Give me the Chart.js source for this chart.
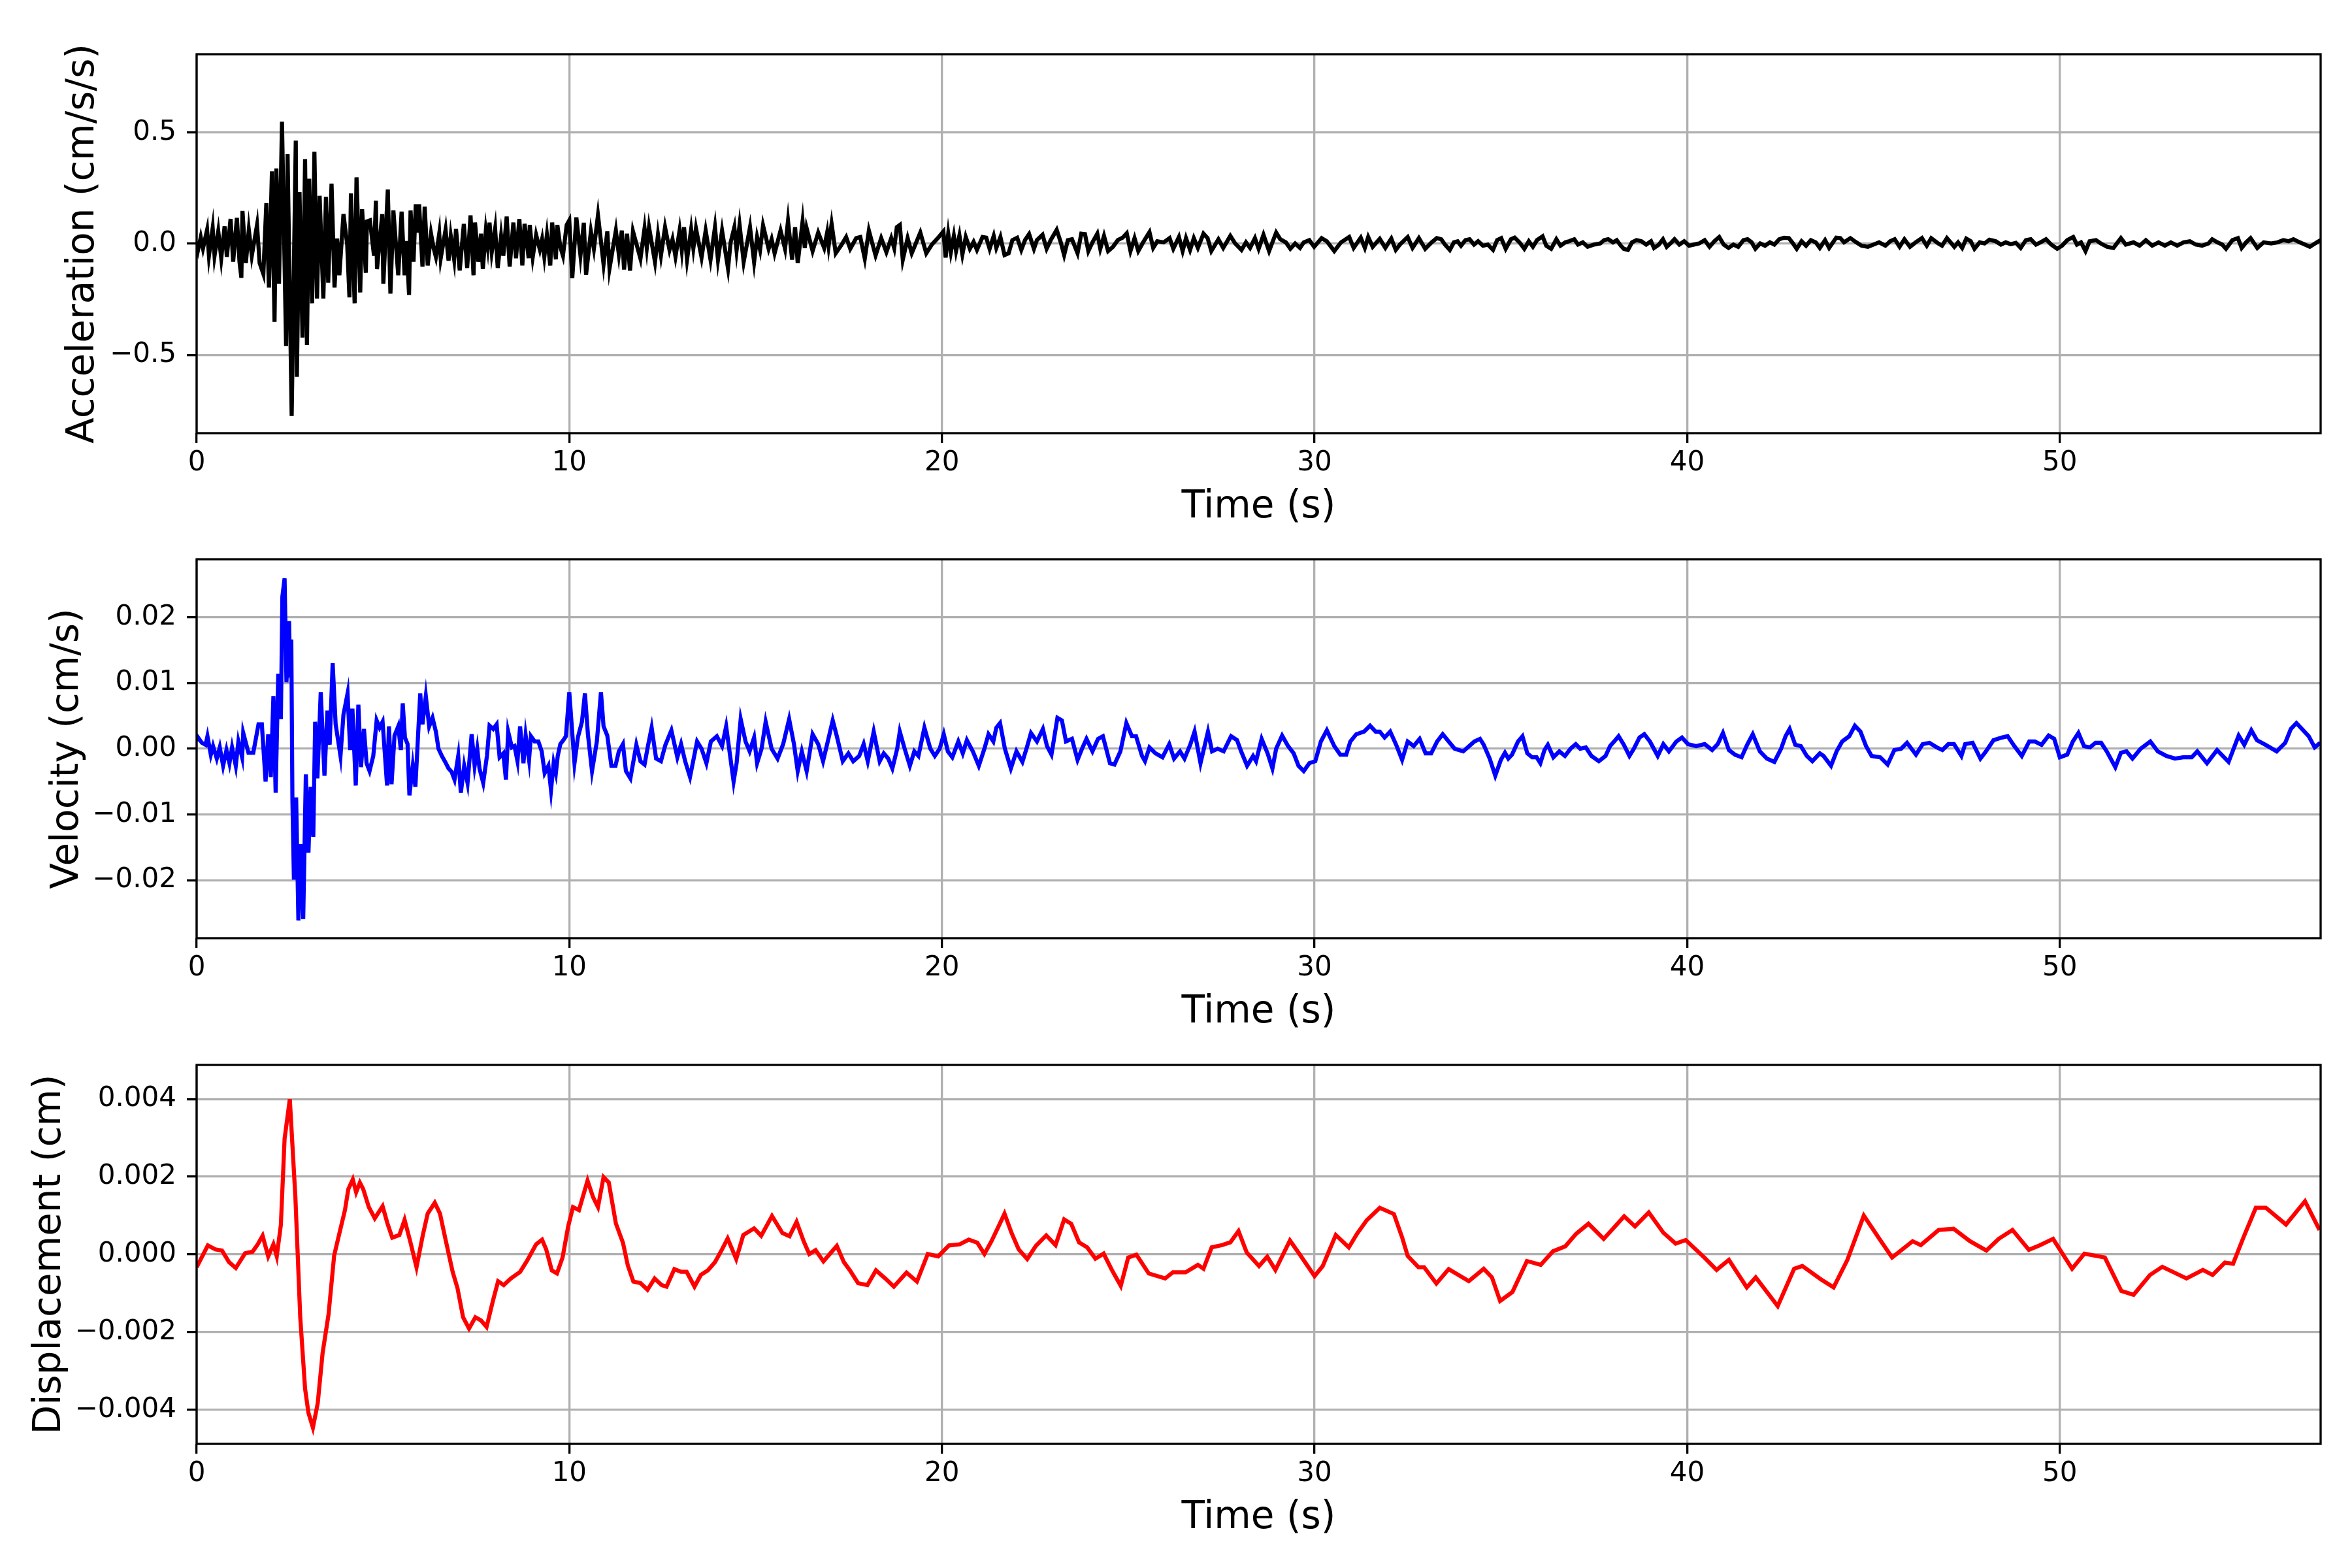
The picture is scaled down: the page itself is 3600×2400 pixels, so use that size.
<!DOCTYPE html>
<html>
<head>
<meta charset="utf-8">
<script src="https://cdn.jsdelivr.net/npm/chart.js@4/dist/chart.umd.min.js"></script>
<style>
html, body { margin: 0; padding: 0; background: #fff; }
body { width: 3600px; height: 2400px; position: relative; overflow: hidden; }
canvas { position: absolute; left: 0; }
</style>
</head>
<body>
<canvas id="acc" width="3600" height="820" style="top:0px"></canvas>
<canvas id="vel" width="3600" height="820" style="top:773px"></canvas>
<canvas id="disp" width="3600" height="820" style="top:1547px"></canvas>
<script>
// tick values and labels
const timeTicks = [0, 10, 20, 30, 40, 50];
const timeTickLabels = ['0', '10', '20', '30', '40', '50'];
const accTicks = [-0.5, 0, 0.5];
const accTickLabels = ['\u22120.5', '0.0', '0.5'];
const velTicks = [-0.02, -0.01, 0, 0.01, 0.02];
const velTickLabels = ['\u22120.02', '\u22120.01', '0.00', '0.01', '0.02'];
const dispTicks = [-0.004, -0.002, 0, 0.002, 0.004];
const dispTickLabels = ['\u22120.004', '\u22120.002', '0.000', '0.002', '0.004'];

// acceleration (cm/s/s)
const accTime = [0.00,0.04,0.11,0.17,0.28,0.33,0.43,0.48,0.58,0.66,0.75,0.81,0.91,0.98,1.08,1.15,1.20,1.23,1.32,1.40,
  1.48,1.62,1.69,1.79,1.87,1.94,2.02,2.09,2.14,2.21,2.29,2.40,2.44,2.55,2.66,2.69,2.76,2.84,2.91,2.96,
  3.02,3.10,3.16,3.23,3.30,3.40,3.47,3.53,3.62,3.70,3.77,3.83,3.94,4.04,4.10,4.14,4.24,4.29,4.39,4.44,
  4.54,4.57,4.65,4.76,4.81,4.84,4.98,5.01,5.13,5.20,5.28,5.41,5.50,5.58,5.63,5.70,5.74,5.82,5.88,5.92,
  5.97,6.06,6.12,6.20,6.29,6.36,6.42,6.51,6.55,6.68,6.76,6.82,6.91,6.96,7.06,7.17,7.26,7.35,7.43,7.47,
  7.56,7.63,7.68,7.76,7.81,7.86,7.92,8.01,8.08,8.17,8.23,8.32,8.40,8.50,8.57,8.66,8.74,8.80,8.91,8.94,
  9.02,9.11,9.21,9.27,9.33,9.40,9.49,9.54,9.64,9.68,9.76,9.83,9.93,10.00,10.08,10.19,10.30,10.39,10.45,10.58,
  10.66,10.77,10.92,11.02,11.08,11.25,11.33,11.41,11.47,11.55,11.63,11.71,11.91,12.02,12.08,12.14,12.30,12.38,12.46,12.57,
  12.69,12.77,12.85,12.96,13.02,13.08,13.16,13.27,13.33,13.40,13.55,13.66,13.79,13.91,13.99,14.10,14.26,14.33,14.43,14.49,
  14.57,14.68,14.85,14.96,15.04,15.12,15.20,15.35,15.43,15.51,15.67,15.79,15.87,15.98,16.06,16.13,16.26,16.32,16.37,16.53,
  16.68,16.84,16.92,16.96,17.04,17.15,17.31,17.43,17.54,17.70,17.81,17.93,18.04,18.22,18.37,18.51,18.64,18.72,18.79,18.87,
  18.95,19.08,19.19,19.42,19.58,19.73,19.89,
  20.04,20.10,20.17,20.24,20.32,20.38,20.47,20.55,20.64,20.75,
  20.85,20.94,21.09,21.19,21.28,21.39,21.46,21.57,21.68,21.79,
  21.89,22.02,22.13,22.23,22.34,22.47,22.55,22.70,22.81,22.92,
  23.08,23.19,23.28,23.38,23.49,23.64,23.74,23.84,23.93,24.04,
  24.17,24.25,24.35,24.46,24.59,24.72,24.85,24.96,25.06,25.17,
  25.27,25.40,25.57,25.67,25.78,25.95,26.11,26.21,26.36,26.46,
  26.55,26.66,26.76,26.87,27.02,27.13,27.23,27.42,27.55,27.74,
  27.87,28.04,28.16,28.27,28.40,28.50,28.63,28.78,28.97,29.08,
  29.23,29.35,29.48,29.61,29.71,29.86,29.99,30.19,30.33,30.53,
  30.71,30.93,31.05,31.24,31.35,31.44,31.56,31.75,31.90,32.06,
  32.18,32.29,32.50,32.63,32.80,32.97,33.14,33.28,
  33.40,33.50,33.63,33.74,33.84,33.93,34.05,34.16,34.28,34.39,
  34.52,34.65,34.79,34.90,35.01,35.13,35.27,35.37,35.50,35.63,
  35.75,35.86,35.97,36.12,36.22,36.35,36.49,36.60,36.73,36.83,
  36.97,37.07,37.20,37.33,37.50,37.67,37.77,37.88,38.01,38.11,
  38.22,38.30,38.41,38.52,38.64,38.77,38.90,39.03,39.11,39.24,
  39.35,39.45,39.58,39.66,39.79,39.92,40.05,40.18,40.32,40.47,
  40.60,40.73,40.86,40.98,41.11,41.24,41.37,41.51,41.62,41.73,
  41.83,41.96,42.09,42.22,42.34,42.47,42.60,42.73,42.84,42.94,
  43.07,43.19,43.32,43.45,43.56,43.70,43.81,44.00,44.11,44.21,
  44.38,44.54,44.68,44.85,45.00,45.15,45.32,45.45,45.57,45.70,
  45.83,45.98,46.13,46.30,46.43,46.55,
  46.74,46.84,46.97,47.07,47.17,47.27,47.38,47.49,47.61,47.71,
  47.85,47.98,48.11,48.28,48.42,48.55,48.68,48.82,48.95,49.09,
  49.22,49.36,49.48,49.63,49.77,49.93,50.06,50.20,50.36,50.46,
  50.57,50.69,50.80,50.97,51.10,51.27,51.44,51.64,51.77,51.98,
  52.14,52.31,52.48,52.65,52.82,52.98,53.15,53.32,53.49,53.65,
  53.82,53.99,54.09,54.23,54.36,54.46,54.63,54.78,54.88,55.00,
  55.12,55.30,55.47,55.67,55.84,56.00,56.14,56.27,56.44,56.58,
  56.71,56.85,57.00];
const accValue = [0.010,-0.026,0.029,-0.021,0.062,-0.054,0.070,-0.054,0.056,-0.065,0.078,-0.059,0.111,-0.081,0.116,-0.081,-0.153,0.147,-0.087,0.062,
  -0.054,0.084,-0.087,-0.136,0.182,-0.197,0.325,-0.351,0.338,-0.180,0.548,-0.460,0.402,-0.774,0.463,-0.598,0.232,-0.422,0.380,-0.455,
  0.292,-0.268,0.413,-0.246,0.215,-0.246,0.210,-0.175,0.270,-0.197,0.023,-0.142,0.133,-0.004,-0.241,0.226,-0.268,0.298,-0.219,0.155,
  -0.131,0.100,0.105,-0.054,0.193,-0.114,0.133,-0.180,0.243,-0.224,0.149,-0.142,0.144,-0.142,0.012,-0.230,0.149,-0.081,0.177,0.050,
  0.177,-0.103,0.166,-0.098,0.045,-0.020,-0.059,0.045,-0.065,0.062,-0.076,0.034,-0.070,0.067,-0.120,0.089,-0.109,0.127,-0.142,0.095,
  -0.081,0.045,-0.114,0.056,-0.010,0.095,-0.037,0.067,-0.109,0.034,-0.054,0.122,-0.103,0.095,-0.065,0.111,-0.098,0.089,-0.065,0.084,
  -0.059,0.040,-0.026,0.020,-0.059,0.040,-0.098,0.095,-0.070,0.084,-0.015,-0.054,0.084,0.105,-0.155,0.118,-0.053,0.094,-0.140,0.055,
  -0.023,0.128,-0.092,0.055,-0.111,0.059,-0.048,0.059,-0.116,0.045,-0.121,0.055,-0.067,0.069,-0.020,0.074,-0.082,0.040,-0.053,0.074,
  -0.028,0.020,-0.058,0.059,-0.030,0.074,-0.072,0.064,-0.020,0.069,-0.062,0.059,-0.072,0.074,-0.072,0.059,-0.111,0.006,0.074,-0.030,
  0.084,-0.082,0.074,-0.082,0.030,-0.028,0.082,-0.023,0.020,-0.043,0.059,-0.023,0.103,-0.072,0.074,-0.087,0.098,-0.020,0.069,-0.033,
  0.050,-0.019,0.050,-0.010,0.089,-0.043,-0.004,0.030,-0.023,0.025,0.030,-0.067,0.059,-0.053,0.025,-0.038,0.025,-0.020,0.074,0.084,
  -0.072,0.025,-0.043,0.050,-0.043,-0.004,0.025,
  0.055,-0.062,0.045,-0.038,0.035,-0.033,0.037,-0.048,0.030,-0.023,
  0.008,-0.028,0.030,0.027,-0.023,0.035,-0.019,0.030,-0.051,-0.043,
  0.016,0.027,-0.028,0.016,0.043,-0.023,0.016,0.040,-0.023,0.016,
  0.062,0.006,-0.051,0.016,0.020,-0.043,0.045,0.043,-0.033,0.006,
  0.045,-0.023,0.035,-0.033,-0.014,0.016,0.027,0.047,-0.033,0.025,
  -0.033,0.006,0.052,-0.019,0.011,0.006,0.025,-0.023,0.030,-0.033,
  0.025,-0.028,0.025,-0.019,0.045,0.025,-0.033,0.020,-0.019,0.035,
  0.001,-0.028,0.006,-0.019,0.025,-0.023,0.040,-0.033,0.050,0.020,
  0.006,-0.023,0.001,-0.019,0.006,0.016,-0.014,0.025,0.011,-0.033,
  0.006,0.030,-0.019,0.027,-0.019,0.030,-0.014,0.022,-0.019,0.023,
  -0.028,-0.004,0.030,-0.019,0.025,-0.023,0.006,0.025,
  0.020,-0.004,-0.028,0.006,0.011,-0.009,0.016,0.020,-0.004,0.011,
  -0.009,-0.004,-0.028,0.016,0.025,-0.023,0.020,0.027,0.006,-0.023,
  0.011,-0.014,0.016,0.033,-0.009,-0.023,0.020,-0.009,0.006,0.011,
  0.020,-0.004,0.006,-0.014,-0.004,0.001,0.016,0.020,0.006,0.016,
  -0.009,-0.023,-0.028,0.006,0.016,0.011,-0.004,0.011,-0.019,-0.004,
  0.020,-0.014,0.006,0.020,-0.004,0.011,-0.009,-0.004,0.001,0.016,
  -0.014,0.011,0.030,-0.004,-0.019,-0.004,-0.014,0.016,0.020,0.006,
  -0.023,0.001,-0.009,0.006,-0.004,0.020,0.027,0.025,0.001,-0.023,
  0.011,-0.009,0.016,0.006,-0.019,0.016,-0.019,0.027,0.025,0.006,
  0.025,0.006,-0.009,-0.014,-0.004,0.006,-0.009,0.011,0.020,-0.014,
  0.020,-0.014,0.006,0.025,-0.009,0.025,
  0.001,-0.009,0.025,0.006,-0.014,0.006,-0.019,0.023,0.011,-0.023,
  0.006,0.001,0.018,0.011,-0.004,0.006,-0.002,0.004,-0.019,0.016,
  0.020,-0.004,0.006,0.020,-0.004,-0.023,-0.009,0.016,0.030,-0.004,
  0.006,-0.033,0.011,0.016,0.001,-0.014,-0.019,0.025,-0.004,0.006,
  -0.009,0.016,-0.009,0.006,-0.009,0.006,-0.009,0.006,0.011,-0.004,
  -0.009,0.001,0.020,0.006,-0.004,-0.023,0.016,0.025,-0.019,0.006,
  0.025,-0.019,0.006,0.001,0.006,0.016,0.011,0.020,0.006,-0.004,
  -0.014,0.001,0.016];

// velocity (cm/s)
const velTime = [0.00,0.04,0.14,0.24,0.29,0.38,0.44,0.54,0.62,0.71,0.80,0.88,0.95,1.05,1.12,1.22,1.25,1.39,1.52,1.66,
  1.75,1.85,1.92,1.99,2.06,2.12,2.19,2.26,2.30,2.36,2.41,2.48,2.51,2.54,2.57,2.61,2.67,2.73,2.79,2.86,
  2.93,3.00,3.06,3.13,3.18,3.24,3.33,3.43,3.51,3.57,3.65,3.73,3.86,3.94,4.05,4.12,4.18,4.27,4.34,4.41,
  4.49,4.56,4.64,4.74,4.83,4.91,4.99,5.11,5.16,5.23,5.31,5.41,5.48,5.53,5.59,5.66,5.71,5.80,5.87,5.93,
  6.00,6.06,6.15,6.24,6.33,6.42,6.49,6.58,6.67,6.76,6.84,6.92,7.02,7.09,7.18,7.27,7.38,7.46,7.53,7.59,
  7.69,7.79,7.86,7.96,8.05,8.13,8.23,8.30,8.36,8.46,8.53,8.61,8.68,8.77,8.83,8.92,8.97,9.07,9.17,9.26,
  9.34,9.44,9.51,9.58,9.64,9.69,9.76,9.84,9.91,10.00,10.14,10.23,10.34,10.42,10.50,10.61,10.74,10.85,10.92,11.02,
  11.13,11.24,11.33,11.44,11.52,11.64,11.80,11.91,12.02,12.11,12.21,12.33,12.46,12.58,12.74,12.90,13.00,13.11,13.24,13.43,
  13.55,13.68,13.80,13.96,14.10,14.21,14.41,14.49,14.60,14.73,14.84,14.96,15.04,15.16,15.27,15.43,15.59,15.74,15.90,16.03,
  16.13,16.24,16.37,16.53,16.68,16.81,16.92,17.07,17.18,17.34,17.49,17.62,17.78,17.90,18.01,18.17,18.33,18.44,18.56,18.67,
  18.80,18.87,19.00,19.14,19.26,19.37,19.53,19.69,19.81,19.94,20.05,20.16,20.28,20.44,20.56,20.67,20.83,20.99,21.14,21.25,
  21.38,21.46,21.56,21.69,21.85,22.00,22.16,22.29,22.39,22.55,22.71,22.82,22.94,23.10,23.22,23.33,23.49,23.64,23.76,23.88,
  24.04,24.19,24.32,24.51,24.63,24.79,24.95,25.10,25.21,25.37,25.45,25.57,25.73,25.92,26.10,26.23,26.39,26.51,26.67,26.78,
  26.94,27.14,27.25,27.40,27.56,27.76,27.92,28.03,28.19,28.35,28.43,28.58,28.74,28.87,28.97,29.13,29.29,29.44,29.57,29.71,
  29.86,30.02,30.17,30.33,30.53,30.69,30.85,30.96,31.12,31.33,31.49,31.64,31.75,31.88,32.03,32.19,32.35,32.50,32.66,32.82,
  32.98,33.13,33.29,33.44,33.60,33.76,33.99,34.29,34.44,34.54,34.70,34.85,35.00,35.11,35.20,35.30,35.46,35.58,35.71,35.84,
  35.96,36.06,36.17,36.26,36.41,36.57,36.72,36.87,37.01,37.13,37.28,37.43,37.63,37.81,37.93,38.04,38.16,38.30,38.45,38.57,
  38.72,38.85,39.00,39.21,39.36,39.51,39.71,39.86,40.02,40.24,40.47,40.67,40.82,40.96,41.12,41.28,41.46,41.61,41.76,41.95,
  42.14,42.34,42.52,42.64,42.75,42.90,43.05,43.21,43.36,43.56,43.66,43.86,44.01,44.16,44.35,44.50,44.65,44.80,44.95,45.18,
  45.38,45.56,45.74,45.90,46.14,46.32,46.50,46.70,46.85,47.01,47.16,47.36,47.46,47.66,47.87,48.02,48.22,48.45,48.60,48.78,
  48.98,49.18,49.33,49.51,49.70,49.85,50.00,50.20,50.35,50.50,50.65,50.81,50.96,51.11,51.26,51.49,51.64,51.79,51.95,52.17,
  52.43,52.63,52.86,53.09,53.31,53.54,53.69,53.95,54.22,54.53,54.80,54.95,55.14,55.29,55.52,55.82,56.05,56.20,56.35,56.50,
  56.68,56.84,56.99];
const velValue = [0.0012,0.0017,0.0009,0.0006,0.0019,-0.0009,0.0004,-0.0015,0.0002,-0.0026,-0.0002,-0.0022,0.0002,-0.0026,0.0011,-0.0013,0.0024,-0.0006,-0.0006,0.0037,
  0.0037,-0.0050,0.0022,-0.0043,0.0080,-0.0067,0.0114,0.0045,0.0231,0.0259,0.0101,0.0194,0.0108,0.0166,-0.0078,-0.0199,-0.0074,-0.0261,-0.0145,-0.0259,
  -0.0039,-0.0158,-0.0058,-0.0134,0.0041,-0.0045,0.0086,-0.0041,0.0058,0.0006,0.0130,0.0037,-0.0011,0.0052,0.0084,-0.0002,0.0061,-0.0056,0.0067,-0.0028,
  0.0030,-0.0022,-0.0034,-0.0011,0.0043,0.0032,0.0041,-0.0056,0.0034,-0.0054,0.0020,0.0034,-0.0002,0.0069,0.0017,0.0007,-0.0071,-0.0026,-0.0058,0.0007,
  0.0084,0.0037,0.0080,0.0034,0.0047,0.0026,0.0000,-0.0011,-0.0020,-0.0030,-0.0035,-0.0047,-0.0011,-0.0067,-0.0026,-0.0052,0.0022,-0.0026,0.0000,-0.0030,
  -0.0052,-0.0011,0.0035,0.0030,0.0037,-0.0013,-0.0007,-0.0047,0.0026,0.0002,0.0004,-0.0019,0.0034,-0.0022,0.0020,-0.0017,0.0019,0.0011,0.0011,-0.0004,
  -0.0037,-0.0026,-0.0063,-0.0022,-0.0037,-0.0011,0.0007,0.0013,0.0019,0.0086,-0.0022,0.0017,0.0041,0.0084,0.0022,-0.0034,0.0011,0.0086,0.0034,0.0020,
  -0.0026,-0.0026,-0.0004,0.0007,-0.0034,-0.0045,0.0006,-0.0019,-0.0024,0.0004,0.0032,-0.0015,-0.0019,0.0006,0.0028,-0.0013,0.0007,-0.0019,-0.0043,0.0011,
  0.0000,-0.0022,0.0011,0.0019,0.0004,0.0034,-0.0050,-0.0022,0.0045,0.0011,-0.0004,0.0017,-0.0022,0.0000,0.0041,0.0000,-0.0015,0.0007,0.0045,0.0007,
  -0.0034,-0.0004,-0.0034,0.0022,0.0007,-0.0019,0.0007,0.0043,0.0019,-0.0019,-0.0007,-0.0019,-0.0011,0.0007,-0.0019,0.0026,-0.0019,-0.0007,-0.0015,-0.0030,
  0.0000,0.0026,0.0000,-0.0026,-0.0004,-0.0011,0.0032,0.0000,-0.0011,0.0000,0.0022,-0.0004,-0.0013,0.0011,-0.0007,0.0013,-0.0004,-0.0026,0.0000,0.0022,
  0.0011,0.0032,0.0039,0.0000,-0.0030,-0.0004,-0.0020,0.0004,0.0024,0.0011,0.0030,0.0004,-0.0009,0.0047,0.0043,0.0011,0.0015,-0.0017,0.0000,0.0015,
  -0.0004,0.0015,0.0019,-0.0022,-0.0024,-0.0004,0.0039,0.0019,0.0019,-0.0011,-0.0019,0.0002,-0.0007,-0.0013,0.0007,-0.0015,-0.0004,-0.0015,0.0007,0.0026,
  -0.0022,0.0026,-0.0004,0.0000,-0.0004,0.0019,0.0013,-0.0004,-0.0026,-0.0011,-0.0019,0.0015,-0.0007,-0.0030,0.0000,0.0020,0.0004,-0.0007,-0.0026,-0.0034,
  -0.0022,-0.0019,0.0011,0.0028,0.0004,-0.0009,-0.0009,0.0011,0.0022,0.0026,0.0035,0.0026,0.0026,0.0017,0.0026,0.0006,-0.0017,0.0011,0.0004,0.0015,
  -0.0007,-0.0007,0.0011,0.0022,0.0011,0.0000,-0.0004,0.0011,0.0015,0.0006,-0.0015,-0.0041,-0.0017,-0.0006,-0.0015,-0.0009,0.0011,0.0019,-0.0007,-0.0013,
  -0.0013,-0.0022,-0.0002,0.0006,-0.0013,-0.0004,-0.0011,0.0000,0.0007,0.0000,0.0002,-0.0011,-0.0019,-0.0011,0.0004,0.0011,0.0019,0.0006,-0.0011,0.0000,
  0.0017,0.0022,0.0011,-0.0011,0.0007,-0.0004,0.0011,0.0017,0.0007,0.0004,0.0007,-0.0002,0.0007,0.0024,-0.0002,-0.0009,-0.0013,0.0006,0.0022,-0.0004,
  -0.0015,-0.0020,0.0000,0.0019,0.0030,0.0006,0.0004,-0.0011,-0.0019,-0.0007,-0.0011,-0.0026,-0.0004,0.0011,0.0019,0.0035,0.0026,0.0004,-0.0011,-0.0013,
  -0.0024,-0.0002,0.0000,0.0009,-0.0009,0.0007,0.0009,0.0002,-0.0002,0.0007,0.0007,-0.0011,0.0007,0.0009,-0.0015,-0.0004,0.0013,0.0017,0.0019,0.0004,
  -0.0011,0.0011,0.0011,0.0006,0.0020,0.0015,-0.0013,-0.0009,0.0011,0.0024,0.0004,0.0002,0.0009,0.0009,-0.0004,-0.0028,-0.0006,-0.0004,-0.0015,0.0000,
  0.0011,-0.0004,-0.0011,-0.0015,-0.0013,-0.0013,-0.0004,-0.0022,-0.0002,-0.0020,0.0020,0.0006,0.0028,0.0013,0.0006,-0.0004,0.0009,0.0030,0.0039,0.0030,
  0.0019,0.0002,0.0009];

// displacement (cm)
const dispTime = [0.00,0.30,0.50,0.68,0.87,1.05,1.30,1.50,1.64,1.77,1.92,2.06,2.15,2.26,2.36,2.50,2.65,2.78,2.91,3.00,
  3.12,3.25,3.38,3.54,3.69,3.82,3.98,4.07,4.19,4.28,4.38,4.47,4.62,4.78,4.99,5.12,5.25,5.44,5.58,5.73,
  5.90,6.07,6.20,6.39,6.53,6.68,6.87,7.00,7.15,7.31,7.48,7.63,7.78,7.95,8.09,8.24,8.43,8.68,8.87,9.11,
  9.27,9.38,9.53,9.67,9.82,9.97,10.10,10.26,10.49,10.64,10.77,10.92,11.06,11.25,11.44,11.57,11.72,11.91,12.10,12.29,
  12.48,12.61,12.82,13.00,13.15,13.36,13.53,13.72,13.91,14.10,14.25,14.48,14.67,14.96,15.15,15.44,15.72,15.91,16.10,16.29,
  16.44,16.61,16.82,16.99,17.18,17.37,17.53,17.75,18.00,18.23,18.48,18.71,19.05,19.33,19.62,19.90,20.19,20.48,20.72,20.95,
  21.14,21.33,21.52,21.68,21.87,22.06,22.29,22.52,22.80,23.05,23.28,23.47,23.68,23.90,24.12,24.34,24.56,24.80,25.00,25.22,
  25.55,25.99,26.20,26.54,26.87,27.02,27.24,27.52,27.74,27.96,28.18,28.51,28.73,28.95,29.34,29.61,30.00,30.22,30.57,30.92,
  31.14,31.40,31.75,32.13,32.35,32.50,32.79,32.94,33.27,33.60,34.14,34.54,34.76,34.98,35.31,35.70,36.07,36.40,36.73,37.02,
  37.35,37.76,38.31,38.60,38.97,39.36,39.69,39.96,40.46,40.79,41.12,41.60,41.84,42.43,42.87,43.09,43.60,43.93,44.30,44.74,
  45.18,45.50,46.05,46.27,46.75,47.15,47.59,48.03,48.36,48.73,49.17,49.45,49.82,50.33,50.66,51.21,51.65,51.98,52.42,52.75,
  53.40,53.84,54.10,54.43,54.65,54.93,55.26,55.53,56.07,56.58,56.97];
const dispValue = [-0.00033,0.00023,0.00013,0.00010,-0.00020,-0.00035,0.00003,0.00007,0.00026,0.00048,-0.00005,0.00026,-0.00005,0.00076,0.00298,0.00400,0.00147,-0.00162,-0.00346,-0.00408,
  -0.00446,-0.00383,-0.00254,-0.00154,-0.00003,0.00050,0.00114,0.00168,0.00193,0.00160,0.00185,0.00168,0.00122,0.00093,0.00124,0.00080,0.00043,0.00050,0.00089,0.00034,
  -0.00033,0.00050,0.00105,0.00133,0.00105,0.00038,-0.00045,-0.00087,-0.00162,-0.00191,-0.00162,-0.00170,-0.00187,-0.00120,-0.00069,-0.00079,-0.00062,-0.00045,-0.00016,0.00026,
  0.00038,0.00013,-0.00041,-0.00049,-0.00008,0.00072,0.00122,0.00114,0.00190,0.00147,0.00122,0.00199,0.00185,0.00080,0.00030,-0.00028,-0.00070,-0.00074,-0.00091,-0.00062,
  -0.00079,-0.00083,-0.00038,-0.00045,-0.00045,-0.00083,-0.00053,-0.00041,-0.00020,0.00013,0.00041,-0.00012,0.00050,0.00067,0.00048,0.00099,0.00055,0.00047,0.00084,0.00034,
  0.00001,0.00011,-0.00018,0.00001,0.00022,-0.00020,-0.00041,-0.00074,-0.00079,-0.00041,-0.00062,-0.00083,-0.00047,-0.00070,0.00001,-0.00005,0.00023,0.00026,0.00038,0.00030,
  0.00001,0.00034,0.00072,0.00105,0.00055,0.00013,-0.00012,0.00022,0.00049,0.00024,0.00090,0.00079,0.00031,0.00018,-0.00011,0.00002,-0.00040,-0.00081,-0.00008,-0.00001,
  -0.00049,-0.00062,-0.00046,-0.00046,-0.00027,-0.00037,0.00018,0.00024,0.00031,0.00060,0.00005,-0.00030,-0.00006,-0.00040,0.00036,-0.00001,-0.00056,-0.00030,0.00050,0.00018,
  0.00053,0.00088,0.00120,0.00104,0.00044,-0.00004,-0.00033,-0.00033,-0.00075,-0.00038,-0.00069,-0.00037,-0.00059,-0.00120,-0.00097,-0.00017,-0.00027,0.00008,0.00021,0.00053,
  0.00079,0.00040,0.00098,0.00072,0.00108,0.00056,0.00028,0.00037,-0.00008,-0.00040,-0.00014,-0.00085,-0.00059,-0.00133,-0.00037,-0.00030,-0.00065,-0.00085,-0.00014,0.00100,
  0.00037,-0.00008,0.00034,0.00024,0.00063,0.00066,0.00034,0.00010,0.00040,0.00063,0.00012,0.00023,0.00040,-0.00037,0.00002,-0.00008,-0.00094,-0.00104,-0.00053,-0.00032,
  -0.00062,-0.00040,-0.00053,-0.00021,-0.00024,0.00044,0.00120,0.00120,0.00077,0.00137,0.00063];

Chart.defaults.font.family = '"DejaVu Sans", sans-serif';
Chart.defaults.color = '#000';

// black box round the plot area, like matplotlib spines
const framePlugin = {
    id: 'frame',
    afterDraw(chart) {
        const a = chart.chartArea;
        const ctx = chart.ctx;
        ctx.save();
        ctx.strokeStyle = '#000';
        ctx.lineWidth = 3.3;
        ctx.strokeRect(a.left, a.top, a.right - a.left, a.bottom - a.top);
        ctx.restore();
    }
};

function drawPanel(id, times, values, color, label, yLimit, yTicks, yTickLabels, padLeft) {
    const points = times.map((t, i) => ({ x: t, y: values[i] }));
    return new Chart(document.getElementById(id), {
        type: 'line',
        data: {
            datasets: [{
                data: points,
                borderColor: color,
                borderWidth: 6.25,
                pointRadius: 0,
                tension: 0,
                fill: false
            }]
        },
        options: {
            responsive: false,
            animation: false,
            devicePixelRatio: 1,
            layout: { padding: { top: 83, left: padLeft, right: 48, bottom: 8 } },
            plugins: { legend: { display: false }, tooltip: { enabled: false } },
            scales: {
                x: {
                    type: 'linear',
                    min: 0,
                    max: 57,
                    afterBuildTicks: axis => { axis.ticks = timeTicks.map(v => ({ value: v })); },
                    afterFit: axis => { axis.height = 149; },
                    border: { display: false },
                    grid: { color: '#b0b0b0', lineWidth: 3.3, tickColor: '#000', tickWidth: 3.3, tickLength: 15 },
                    ticks: {
                        padding: 6,
                        maxRotation: 0,
                        font: { size: 42 },
                        callback: (v, i) => timeTickLabels[i]
                    },
                    title: { display: true, text: 'Time (s)', font: { size: 58 }, padding: 0 }
                },
                y: {
                    min: -yLimit,
                    max: yLimit,
                    afterBuildTicks: axis => { axis.ticks = yTicks.map(v => ({ value: v })); },
                    afterFit: axis => { axis.width = 301 - padLeft; },
                    border: { display: false },
                    grid: { color: '#b0b0b0', lineWidth: 3.3, tickColor: '#000', tickWidth: 3.3, tickLength: 15 },
                    ticks: {
                        padding: 16,
                        font: { size: 42 },
                        callback: (v, i) => yTickLabels[i]
                    },
                    title: { display: true, text: label, font: { size: 58 }, padding: 0 }
                }
            }
        },
        plugins: [framePlugin]
    });
}

drawPanel('acc', accTime, accValue, '#000000', 'Acceleration (cm/s/s)', 0.851, accTicks, accTickLabels, 93);
drawPanel('vel', velTime, velValue, '#0000ff', 'Velocity (cm/s)', 0.0288, velTicks, velTickLabels, 69);
drawPanel('disp', dispTime, dispValue, '#ff0000', 'Displacement (cm)', 0.00488, dispTicks, dispTickLabels, 42);
</script>
</body>
</html>
